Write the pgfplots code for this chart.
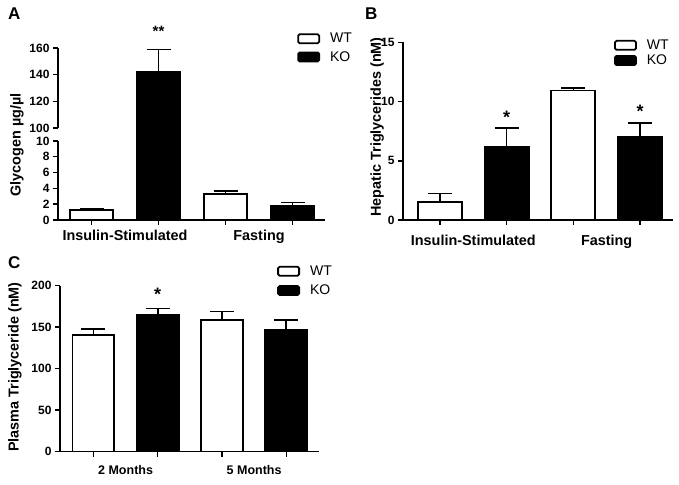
\documentclass[border=0pt]{standalone}
\usepackage{pgfplots}
\pgfplotsset{compat=1.18}
\usepackage{fontspec}
\setmainfont{Liberation Sans}
\pgfplotsset{
  gp/.style={
    scale only axis,
    axis x line*=bottom, axis y line*=left,
    axis line style={-, line width=1.6pt},
    tick align=outside, major tick length=5pt, minor tick length=5pt,
    every tick/.append style={black, line width=1.4pt},
    ybar, bar shift=0pt,
    /pgf/number format/assume math mode=true,
    tick label style={font=\fontsize{12}{12}\selectfont\bfseries},
    clip mode=individual,
    xtick={1.5,3.5},
    minor xtick={1,2,3,4},
    major x tick style={draw=none},
    minor x tick style={draw=black, line width=1.4pt},
    legend image code/.code={\draw[#1, line width=1.8pt, rounded corners=1.5pt] (0pt,-4.5pt) rectangle (21pt,4.5pt);},
    legend style={draw=none, fill=none, font=\fontsize{14}{14}\selectfont, inner sep=0pt, column sep=8pt},
    legend cell align=left,
    ylabel style={font=\fontsize{14.4}{14.4}\selectfont\bfseries},
  },
  wtbar/.style={fill=white, draw=black, line width=1.8pt, forget plot,
    error bars/.cd, y dir=plus, y explicit,
    error bar style={line width=1.6pt, black},
    error mark options={rotate=90, line width=1.6pt, mark size=12pt, black}},
  kobar/.style={fill=black, draw=black, line width=1.8pt, forget plot,
    error bars/.cd, y dir=plus, y explicit,
    error bar style={line width=1.6pt, black},
    error mark options={rotate=90, line width=1.6pt, mark size=12pt, black}},
}
\begin{document}
\begin{tikzpicture}
\useasboundingbox (0,0) rectangle (679pt,484pt);
% ---------- Panel A, lower part ----------
\begin{axis}[gp, at={(58pt,264pt)}, anchor=south west, width=267pt, height=79pt,
  xmin=0.5, xmax=4.485, ymin=0, ymax=10, ytick={0,2,4,6,8,10},
  bar width=0.64,
  xticklabels={Insulin-Stimulated,Fasting},
  xticklabel style={font=\fontsize{14.4}{14.4}\selectfont\bfseries, yshift=-2pt},
  ylabel={Glycogen µg/µl}, ylabel style={at={(axis description cs:-0.1536,0.949)}, anchor=center}]
\addplot[wtbar] coordinates {(1,1.25) +- (0,0.15) (3,3.3) +- (0,0.4)};
\addplot[kobar] coordinates {(2,142) +- (0,17) (4,1.8) +- (0,0.4)};
\end{axis}
% ---------- Panel A, upper part ----------
\begin{axis}[gp, at={(58pt,343pt)}, anchor=south west, width=267pt, height=93pt,
  xmin=0.5, xmax=4.485, ymin=90.25, ymax=160, ytick={100,120,140,160},
  axis x line=none, xtick=\empty, minor xtick={}, y axis line style={draw=none}, bar width=0.64,
  legend style={at={(0.8955,1.183)}, anchor=north west, row sep=3pt}]
\addplot[kobar] coordinates {(2,142) +- (0,17)};
\addlegendimage{fill=white, draw=black}
\addlegendentry{WT}
\addlegendimage{fill=black, draw=black}
\addlegendentry{KO}
\draw[line width=1.6pt] (axis cs:0.5,100) -- (axis cs:0.5,160);
\node[font=\fontsize{15}{15}\selectfont\bfseries, anchor=base, inner sep=0pt] at (axis cs:2,168.6) {**};
\end{axis}
% ---------- Panel B ----------
\begin{axis}[gp, at={(403pt,264pt)}, anchor=south west, width=270pt, height=177.5pt,
  xmin=0.445, xmax=4.495, ymin=0, ymax=15, ytick={0,5,10,15}, bar width=0.66,
  xticklabels={Insulin-Stimulated,Fasting},
  xticklabel style={font=\fontsize{14.4}{14.4}\selectfont\bfseries, yshift=-7pt},
  ylabel={Hepatic Triglycerides (nM)}, ylabel style={at={(axis description cs:-0.096,0.524)}, anchor=center},
  legend style={at={(0.781,1.028)}, anchor=north west, row sep=0pt}]
\addplot[wtbar] coordinates {(1,1.5) +- (0,0.75) (3,10.95) +- (0,0.2)};
\addplot[kobar] coordinates {(2,6.2) +- (0,1.55) (4,7.05) +- (0,1.15)};
\addlegendimage{fill=white, draw=black}
\addlegendentry{WT}
\addlegendimage{fill=black, draw=black}
\addlegendentry{KO}
\node[font=\fontsize{18}{18}\selectfont\bfseries, anchor=base, inner sep=0pt] at (axis cs:2,8.17) {*};
\node[font=\fontsize{18}{18}\selectfont\bfseries, anchor=base, inner sep=0pt] at (axis cs:4,8.7) {*};
\end{axis}
% ---------- Panel C ----------
\begin{axis}[gp, at={(60pt,32.3pt)}, anchor=south west, width=259pt, height=166pt,
  xmin=0.479, xmax=4.51, ymin=0, ymax=200, ytick={0,50,100,150,200}, bar width=0.65,
  xticklabels={2 Months,5 Months},
  xticklabel style={font=\fontsize{12.5}{12.5}\selectfont\bfseries, yshift=-5pt},
  ylabel={Plasma Triglyceride (nM)}, ylabel style={at={(axis description cs:-0.174,0.51)}, anchor=center},
  legend style={at={(0.838,1.134)}, anchor=north west, row sep=4pt}]
\addplot[wtbar] coordinates {(1,140.6) +- (0,7) (3,158.7) +- (0,10)};
\addplot[kobar] coordinates {(2,164.7) +- (0,8) (4,146.6) +- (0,12)};
\addlegendimage{fill=white, draw=black}
\addlegendentry{WT}
\addlegendimage{fill=black, draw=black}
\addlegendentry{KO}
\node[font=\fontsize{18}{18}\selectfont\bfseries, anchor=base, inner sep=0pt] at (axis cs:2,182.4) {*};
\end{axis}
% ---------- panel letters ----------
\node[anchor=base west, inner sep=0pt, font=\fontsize{17}{17}\selectfont\bfseries] at (8pt,464pt) {A};
\node[anchor=base west, inner sep=0pt, font=\fontsize{17}{17}\selectfont\bfseries] at (365pt,464pt) {B};
\node[anchor=base west, inner sep=0pt, font=\fontsize{17}{17}\selectfont\bfseries] at (8pt,215pt) {C};
\end{tikzpicture}
\end{document}
